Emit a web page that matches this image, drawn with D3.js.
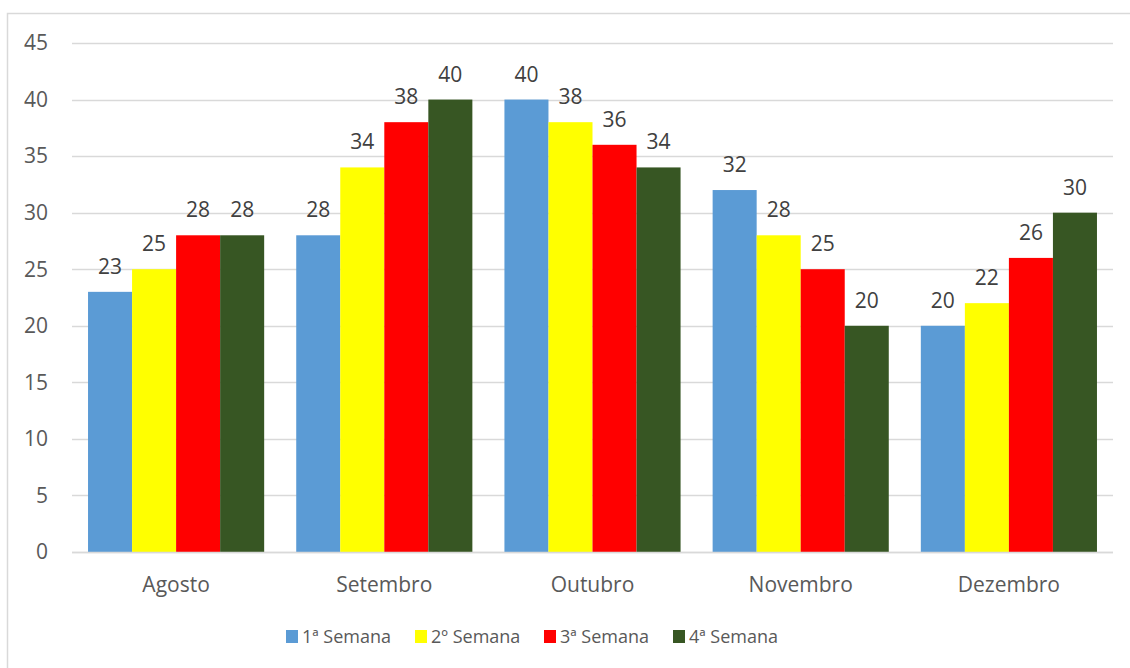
<!DOCTYPE html>
<html>
<head>
<meta charset="utf-8">
<script src="https://cdn.jsdelivr.net/npm/d3@7"></script>
<style>
  body { margin: 0; background: #fff; }
  text { font-family: "Open Sans", sans-serif; }
</style>
</head>
<body>
<div id="chart"></div>
<script>
var months = ["Agosto", "Setembro", "Outubro", "Novembro", "Dezembro"];
var seriesNames = ["1ª Semana", "2º Semana", "3ª Semana", "4ª Semana"];
var semana1 = [23, 28, 40, 32, 20];
var semana2 = [25, 34, 38, 28, 22];
var semana3 = [28, 38, 36, 25, 26];
var semana4 = [28, 40, 34, 20, 30];
var yTicks = [0, 5, 10, 15, 20, 25, 30, 35, 40, 45];

var colors = ["#5B9BD5", "#FFFF00", "#FF0000", "#375623"];
var series = [semana1, semana2, semana3, semana4];

var width = 1130, height = 668;
var margin = { left: 72, right: 17, top: 43, bottom: 116 };

var svg = d3.select("#chart").append("svg")
    .attr("width", width)
    .attr("height", height);

// frame (right and bottom edges run off the picture)
svg.append("rect")
    .attr("x", 7.5).attr("y", 13.5)
    .attr("width", 1130).attr("height", 670)
    .attr("fill", "none")
    .attr("stroke", "#d9d9d9")
    .attr("stroke-width", 1.5);

var x = d3.scaleBand()
    .domain(months)
    .range([margin.left, width - margin.right])
    .paddingInner(0.154)
    .paddingOuter(0.077);

var xs = d3.scaleBand()
    .domain(d3.range(4))
    .range([0, x.bandwidth()]);

var y = d3.scaleLinear()
    .domain([0, 45])
    .range([height - margin.bottom, margin.top]);

// gridlines
svg.append("g")
    .selectAll("line")
    .data(yTicks)
    .enter().append("line")
    .attr("x1", margin.left)
    .attr("x2", width - margin.right)
    .attr("y1", function (d) { return Math.round(y(d)) + 0.5; })
    .attr("y2", function (d) { return Math.round(y(d)) + 0.5; })
    .attr("stroke", "#d9d9d9")
    .attr("stroke-width", 1.3);

svg.append("g")
    .selectAll("text")
    .data(yTicks)
    .enter().append("text")
    .attr("x", 48)
    .attr("y", function (d) { return y(d); })
    .attr("dy", "0.35em")
    .attr("text-anchor", "end")
    .attr("font-size", 21)
    .attr("fill", "#595959")
    .text(function (d) { return d; });

// bars
var groups = svg.append("g")
    .selectAll("g")
    .data(months)
    .enter().append("g")
    .attr("transform", function (d) { return "translate(" + x(d) + ",0)"; });

function cells(m, i) {
    return series.map(function (s, k) { return { k: k, v: s[i] }; });
}

groups.selectAll("rect")
    .data(cells)
    .enter().append("rect")
    .attr("x", function (d) { return xs(d.k); })
    .attr("width", xs.bandwidth())
    .attr("y", function (d) { return y(d.v); })
    .attr("height", function (d) { return y(0) - y(d.v); })
    .attr("fill", function (d) { return colors[d.k]; });

groups.selectAll("text")
    .data(cells)
    .enter().append("text")
    .attr("x", function (d) { return xs(d.k) + xs.bandwidth() / 2; })
    .attr("y", function (d) { return y(d.v) - 18; })
    .attr("text-anchor", "middle")
    .attr("font-size", 21)
    .attr("fill", "#404040")
    .text(function (d) { return d.v; });

// x axis line
svg.append("line")
    .attr("x1", margin.left).attr("x2", width - margin.right)
    .attr("y1", y(0) + 0.5).attr("y2", y(0) + 0.5)
    .attr("stroke", "#d9d9d9")
    .attr("stroke-width", 1.3);

svg.append("g")
    .selectAll("text")
    .data(months)
    .enter().append("text")
    .attr("x", function (d) { return x(d) + x.bandwidth() / 2; })
    .attr("y", 592)
    .attr("text-anchor", "middle")
    .attr("font-size", 21)
    .attr("fill", "#595959")
    .text(function (d) { return d; });

// legend
var legend = svg.append("g")
    .selectAll("g")
    .data(seriesNames)
    .enter().append("g")
    .attr("transform", function (d, i) { return "translate(" + (286 + i * 129) + ",630)"; });

legend.append("rect")
    .attr("width", 12).attr("height", 13)
    .attr("fill", function (d, i) { return colors[i]; });

legend.append("text")
    .attr("x", 16)
    .attr("y", 6.5)
    .attr("dy", "0.35em")
    .attr("font-size", 18)
    .attr("fill", "#595959")
    .text(function (d) { return d; });
</script>
</body>
</html>
